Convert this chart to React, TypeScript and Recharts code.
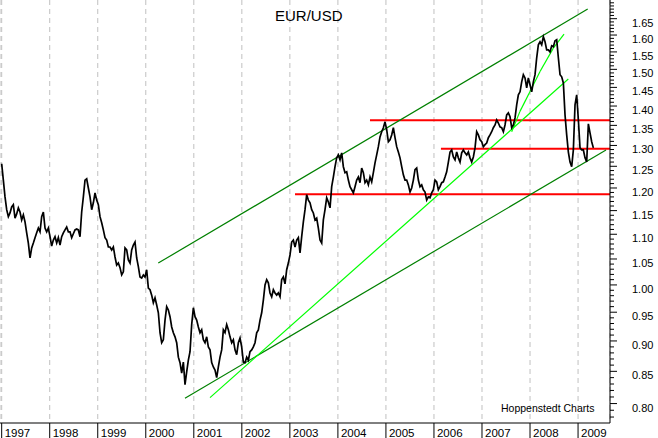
import React from 'react';
import { ComposedChart, Line, XAxis, YAxis, CartesianGrid, ReferenceLine } from 'recharts';

// EUR/USD closes, every 12.7 days from Jan 1997
const START_YEAR = 1997;
const STEP = 0.0347;
const eurusd = [
    1.256, 1.218, 1.180, 1.152, 1.137, 1.145, 1.158, 1.163, 1.134, 1.143, 1.156, 1.147,
    1.130, 1.141, 1.126, 1.103, 1.082, 1.052, 1.072, 1.082, 1.093, 1.103, 1.113, 1.105,
    1.137, 1.147, 1.113, 1.105, 1.113, 1.095, 1.076, 1.088, 1.095, 1.082, 1.093, 1.078,
    1.095, 1.103, 1.109, 1.115, 1.105, 1.105, 1.093, 1.101, 1.109, 1.111, 1.109, 1.095,
    1.147, 1.180, 1.218, 1.221, 1.200, 1.180, 1.152, 1.167, 1.189, 1.173, 1.163, 1.137,
    1.124, 1.109, 1.093, 1.088, 1.074, 1.074, 1.068, 1.074, 1.054, 1.038, 1.042, 1.033,
    1.019, 1.025, 1.072, 1.068, 1.048, 1.042, 1.068, 1.078, 1.084, 1.052, 1.035, 1.015,
    1.013, 1.019, 1.015, 1.029, 0.994, 0.991, 0.981, 0.967, 0.976, 0.963, 0.949, 0.914,
    0.897, 0.902, 0.936, 0.960, 0.954, 0.942, 0.924, 0.914, 0.907, 0.897, 0.873, 0.864,
    0.847, 0.865, 0.829, 0.849, 0.868, 0.882, 0.928, 0.958, 0.942, 0.936, 0.924, 0.914,
    0.919, 0.902, 0.897, 0.907, 0.890, 0.885, 0.864, 0.857, 0.852, 0.840, 0.857, 0.873,
    0.885, 0.919, 0.914, 0.928, 0.919, 0.907, 0.897, 0.902, 0.885, 0.877, 0.897, 0.905,
    0.890, 0.865, 0.864, 0.873, 0.868, 0.882, 0.885, 0.890, 0.897, 0.914, 0.919, 0.936,
    0.949, 0.972, 1.000, 1.010, 1.004, 0.985, 0.978, 0.991, 0.985, 0.981, 0.985, 0.978,
    1.010, 1.015, 1.002, 1.029, 1.042, 1.058, 1.084, 1.088, 1.074, 1.088, 1.093, 1.062,
    1.095, 1.126, 1.152, 1.185, 1.173, 1.167, 1.152, 1.145, 1.130, 1.134, 1.113, 1.088,
    1.082, 1.130, 1.152, 1.178, 1.169, 1.156, 1.203, 1.225, 1.249, 1.270, 1.277, 1.265,
    1.282, 1.249, 1.235, 1.237, 1.218, 1.203, 1.196, 1.189, 1.203, 1.218, 1.225, 1.212,
    1.246, 1.235, 1.212, 1.218, 1.207, 1.225, 1.214, 1.235, 1.258, 1.277, 1.297, 1.321,
    1.334, 1.344, 1.359, 1.339, 1.309, 1.314, 1.326, 1.344, 1.319, 1.297, 1.284, 1.270,
    1.249, 1.230, 1.218, 1.218, 1.207, 1.191, 1.200, 1.218, 1.242, 1.246, 1.218, 1.203,
    1.207, 1.196, 1.191, 1.173, 1.180, 1.178, 1.189, 1.196, 1.218, 1.214, 1.196, 1.203,
    1.212, 1.214, 1.225, 1.237, 1.260, 1.284, 1.289, 1.272, 1.265, 1.284, 1.270, 1.260,
    1.282, 1.289, 1.282, 1.277, 1.284, 1.270, 1.260, 1.272, 1.294, 1.334, 1.326, 1.314,
    1.309, 1.297, 1.302, 1.306, 1.319, 1.326, 1.334, 1.344, 1.351, 1.364, 1.356, 1.346,
    1.344, 1.334, 1.351, 1.377, 1.382, 1.372, 1.344, 1.351, 1.369, 1.403, 1.430, 1.438,
    1.465, 1.485, 1.476, 1.449, 1.476, 1.457, 1.438, 1.465, 1.485, 1.533, 1.571, 1.580,
    1.571, 1.595, 1.580, 1.556, 1.556, 1.550, 1.568, 1.565, 1.583, 1.586, 1.533, 1.485,
    1.479, 1.462, 1.377, 1.326, 1.284, 1.260, 1.249, 1.289, 1.403, 1.430, 1.364, 1.294,
    1.289, 1.289, 1.270, 1.260, 1.354, 1.331, 1.309, 1.294,
];

const years = [1997, 1998, 1999, 2000, 2001, 2002, 2003, 2004, 2005, 2006, 2007, 2008, 2009];
const priceLabels = [0.8, 0.85, 0.9, 0.95, 1.0, 1.05, 1.1, 1.15, 1.2, 1.25, 1.3, 1.35, 1.4, 1.45, 1.5, 1.55, 1.6, 1.65];
const minorTicks = Array.from({ length: 93 }, (_, i) => Math.round((0.78 + i * 0.01) * 100) / 100);

const X_MIN = 1996.965;
const X_MAX = 2009.665;
const Y_MIN = 0.7713;
const Y_MAX = 1.709;

// trend channel (dark green)
const channelUpper = [{ x: 2000.26, y: 1.042 }, { x: 2009.201, y: 1.68 }];
const channelLower = [{ x: 2000.816, y: 0.808 }, { x: 2009.582, y: 1.289 }];
// bright green trend lines
const trendFast = [{ x: 2001.337, y: 0.809 }, { x: 2008.797, y: 1.473 }];
const trendCurveT = [2007.618, 2007.791, 2008.0, 2008.208, 2008.485, 2008.708];
const trendCurveV = [1.334, 1.386, 1.439, 1.494, 1.561, 1.603];
// red horizontal levels: start year and level
const levelStart = [2003.107, 2004.668, 2006.145];
const levelValue = [1.186, 1.363, 1.292];

const data = eurusd.map((v, i) => ({ t: START_YEAR + i * STEP, v }));

const FONT = '"Liberation Sans", Arial, sans-serif';

function PriceTick(props: any) {
    const { x, y, payload } = props;
    const v = payload.value;
    const major = priceLabels.some((m) => Math.abs(m - v) < 1e-6);
    return (
        <g>
            <line x1={x} x2={x + (major ? 7 : 4)} y1={y} y2={y} stroke="#000" strokeWidth={1} />
            {major && (
                <text x={x + 22} y={y + 8} fontSize={11} fill="#000" fontFamily={FONT}>
                    {v.toFixed(2)}
                </text>
            )}
        </g>
    );
}

function YearTick(props: any) {
    const { x, y, payload } = props;
    return (
        <g>
            <line x1={x} x2={x} y1={y} y2={y + 15} stroke="#000" strokeWidth={1} />
            <text x={x + 3} y={y + 13.5} fontSize={11.5} fill="#000" fontFamily={FONT}>
                {payload.value}
            </text>
        </g>
    );
}

export default function App() {
    const curveSegs = trendCurveT.slice(1).map((t, i) => [
        { x: trendCurveT[i], y: trendCurveV[i] },
        { x: t, y: trendCurveV[i + 1] },
    ]);

    return (
        <div style={{ position: 'absolute', left: 0, top: 0, width: 658, height: 438, background: '#fff' }}>
            <ComposedChart width={658} height={438} data={data} margin={{ top: 0, right: 0, bottom: 0, left: 0 }}>
                <CartesianGrid vertical horizontal={false} stroke="#c0c0c0" strokeDasharray="5 4" />
                <XAxis
                    dataKey="t"
                    type="number"
                    domain={[X_MIN, X_MAX]}
                    allowDataOverflow
                    ticks={years}
                    interval={0}
                    height={15}
                    tickSize={0}
                    tickMargin={0}
                    tickLine={false}
                    axisLine={{ stroke: '#000' }}
                    tick={(p: any) => <YearTick {...p} />}
                />
                <YAxis
                    orientation="right"
                    scale="log"
                    domain={[Y_MIN, Y_MAX]}
                    allowDataOverflow
                    ticks={minorTicks}
                    interval={0}
                    width={48}
                    tickSize={0}
                    tickMargin={0}
                    tickLine={false}
                    axisLine={{ stroke: '#000' }}
                    tick={(p: any) => <PriceTick {...p} />}
                />
                {levelStart.map((s, i) => (
                    <ReferenceLine
                        key={`lvl${i}`}
                        segment={[{ x: s, y: levelValue[i] }, { x: X_MAX, y: levelValue[i] }]}
                        stroke="#ff0000"
                        strokeWidth={2}
                        ifOverflow="visible"
                    />
                ))}
                <ReferenceLine segment={channelUpper} stroke="#008000" strokeWidth={1.2} ifOverflow="visible" />
                <ReferenceLine segment={channelLower} stroke="#008000" strokeWidth={1.2} ifOverflow="visible" />
                <ReferenceLine segment={trendFast} stroke="#00ff00" strokeWidth={1.2} ifOverflow="visible" />
                {curveSegs.map((seg, i) => (
                    <ReferenceLine key={`cv${i}`} segment={seg} stroke="#00ff00" strokeWidth={1.2} ifOverflow="visible" />
                ))}
                <Line
                    dataKey="v"
                    type="linear"
                    stroke="#000"
                    strokeWidth={1.7}
                    dot={false}
                    activeDot={false}
                    isAnimationActive={false}
                />
            </ComposedChart>
            <svg width={658} height={438} style={{ position: 'absolute', left: 0, top: 0, pointerEvents: 'none' }}>
                <text x={275} y={20.5} fontSize={15} fill="#000" fontFamily={FONT}>EUR/USD</text>
                <text x={501} y={412} fontSize={10.5} fill="#000" fontFamily={FONT}>Hoppenstedt Charts</text>
            </svg>
        </div>
    );
}
